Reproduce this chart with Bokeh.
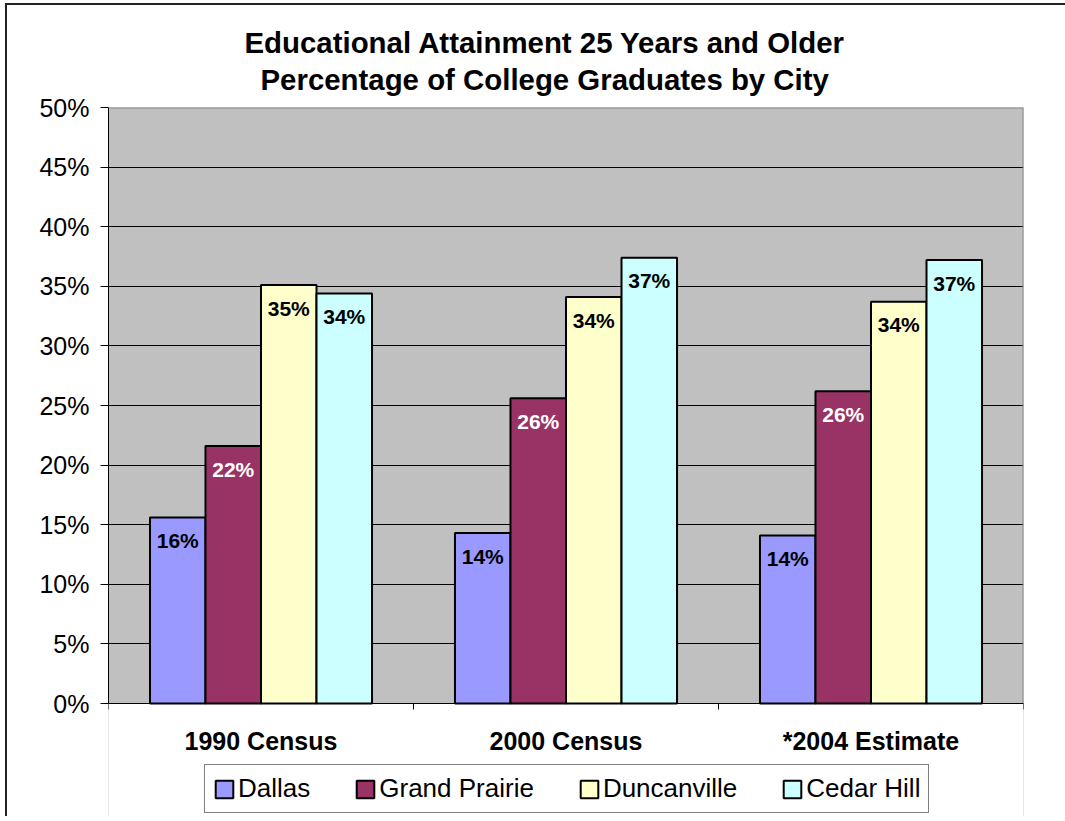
from bokeh.plotting import figure
from bokeh.models import (Range1d, FixedTicker, NumeralTickFormatter, ColumnDataSource,
                          Legend, LegendItem, Title, BoxAnnotation)
from bokeh.core.properties import value
from bokeh.embed import file_html
from bokeh.resources import INLINE

# ---------------- data ----------------
categories = ["1990 Census", "2000 Census", "*2004 Estimate"]
cities = ["Dallas", "Grand Prairie", "Duncanville", "Cedar Hill"]
dallas = [0.156, 0.143, 0.141]
grand_prairie = [0.216, 0.256, 0.262]
duncanville = [0.351, 0.341, 0.337]
cedar_hill = [0.344, 0.374, 0.372]
series = [dallas, grand_prairie, duncanville, cedar_hill]
y_ticks = [0.0, 0.05, 0.10, 0.15, 0.20, 0.25, 0.30, 0.35, 0.40, 0.45, 0.50]
title_lines = ["Educational Attainment 25 Years and Older",
               "Percentage of College Graduates by City"]

# ---------------- style / layout ----------------
colors = ["#9999FF", "#993366", "#FFFFCC", "#CCFFFF"]
label_colors = ["black", "white", "black", "black"]
FONT = "Liberation Sans"
FRAME_W = 915
PLOT_H = 596            # pixel height of the 0..50% plot area
FRAME_H = 709           # frame also holds the category labels and legend below 0
BAR_W = 0.182
Y_MAX = 0.5
Y_MIN = -Y_MAX * (FRAME_H - PLOT_H) / PLOT_H
N = len(categories)

p = figure(frame_width=FRAME_W, frame_height=FRAME_H,
           output_backend="svg", toolbar_location=None,
           x_range=Range1d(0, N), y_range=Range1d(Y_MIN, Y_MAX),
           min_border_left=101, min_border_right=42,
           min_border_top=102, min_border_bottom=0,
           background_fill_color="#C0C0C0", border_fill_color="white",
           outline_line_color=None,
           styles={"margin-left": "5px", "margin-top": "3px",
                   "border-left": "2px solid #222222", "border-top": "2px solid #222222"})

# white area under the plot area (where labels and legend sit)
p.add_layout(BoxAnnotation(left=0, right=N, bottom=Y_MIN, top=0, fill_color="white",
                           fill_alpha=1, line_alpha=0, level="underlay"))

renderers = []
for i, (name, vals) in enumerate(zip(cities, series)):
    xs = [g + 0.5 + (i - 1.5) * BAR_W for g in range(N)]
    src = ColumnDataSource(dict(x=xs, top=vals, label=[f"{v * 100:.0f}%" for v in vals]))
    r = p.vbar(x="x", top="top", bottom=0, width=BAR_W, source=src,
               fill_color=colors[i], line_color="black", line_width=2)
    p.text(x="x", y="top", text="label", source=src, text_font=value(FONT),
           text_font_style="bold", text_font_size="21px", text_color=label_colors[i],
           text_align="center", text_baseline="alphabetic", y_offset=23)
    renderers.append(r)

# grey border on top and right of the plot area
p.segment(x0=[0, N], y0=[Y_MAX, 0], x1=[N, N], y1=[Y_MAX, Y_MAX],
          line_color="#888888", line_width=2)

# x axis at 0%: labels at category centres, tick marks at category boundaries
xa = p.xaxis[0]
xa.fixed_location = 0
xa.ticker = FixedTicker(ticks=[g + 0.5 for g in range(N)], minor_ticks=list(range(N + 1)))
xa.major_label_overrides = {g + 0.5: c for g, c in enumerate(categories)}
xa.major_tick_out = 0
xa.major_tick_in = 0
xa.minor_tick_out = 6
xa.minor_tick_in = 0
xa.minor_tick_line_color = "black"
xa.axis_line_color = "black"
xa.major_label_standoff = 17
xa.major_label_text_font = FONT
xa.major_label_text_font_style = "bold"
xa.major_label_text_font_size = "25px"
xa.major_label_text_color = "black"

ya = p.yaxis[0]
ya.bounds = (0, Y_MAX)
ya.ticker = FixedTicker(ticks=y_ticks, minor_ticks=[])
ya.formatter = NumeralTickFormatter(format="0%")
ya.major_tick_out = 8
ya.major_tick_in = 0
ya.major_tick_line_color = "black"
ya.axis_line_color = "black"
ya.major_label_standoff = 11
ya.major_label_text_font = FONT
ya.major_label_text_font_size = "25px"
ya.major_label_text_color = "black"

p.xgrid.visible = False
p.ygrid.ticker = FixedTicker(ticks=y_ticks)
p.ygrid.grid_line_color = "black"

legend = Legend(items=[LegendItem(label=c, renderers=[r]) for c, r in zip(cities, renderers)],
                orientation="horizontal", location=(96, 3),
                label_text_font=FONT, label_text_font_size="26px", label_text_color="black",
                glyph_width=22, glyph_height=22, label_standoff=3, spacing=44,
                padding=8, border_line_color="black", border_line_width=1,
                background_fill_color="white", background_fill_alpha=1)
p.add_layout(legend, "center")

# two title lines (second line nearest the plot area)
p.add_layout(Title(text=title_lines[1], align="left", offset=152, vertical_align="top",
                   standoff=19, text_font=FONT, text_font_style="bold",
                   text_font_size="29.4px", text_color="black"), "above")
p.add_layout(Title(text=title_lines[0], align="left", offset=136, vertical_align="bottom",
                   standoff=-11, text_font=FONT, text_font_style="bold",
                   text_font_size="29.4px", text_color="black"), "above")

open("out.html", "w").write(file_html(p, INLINE))
